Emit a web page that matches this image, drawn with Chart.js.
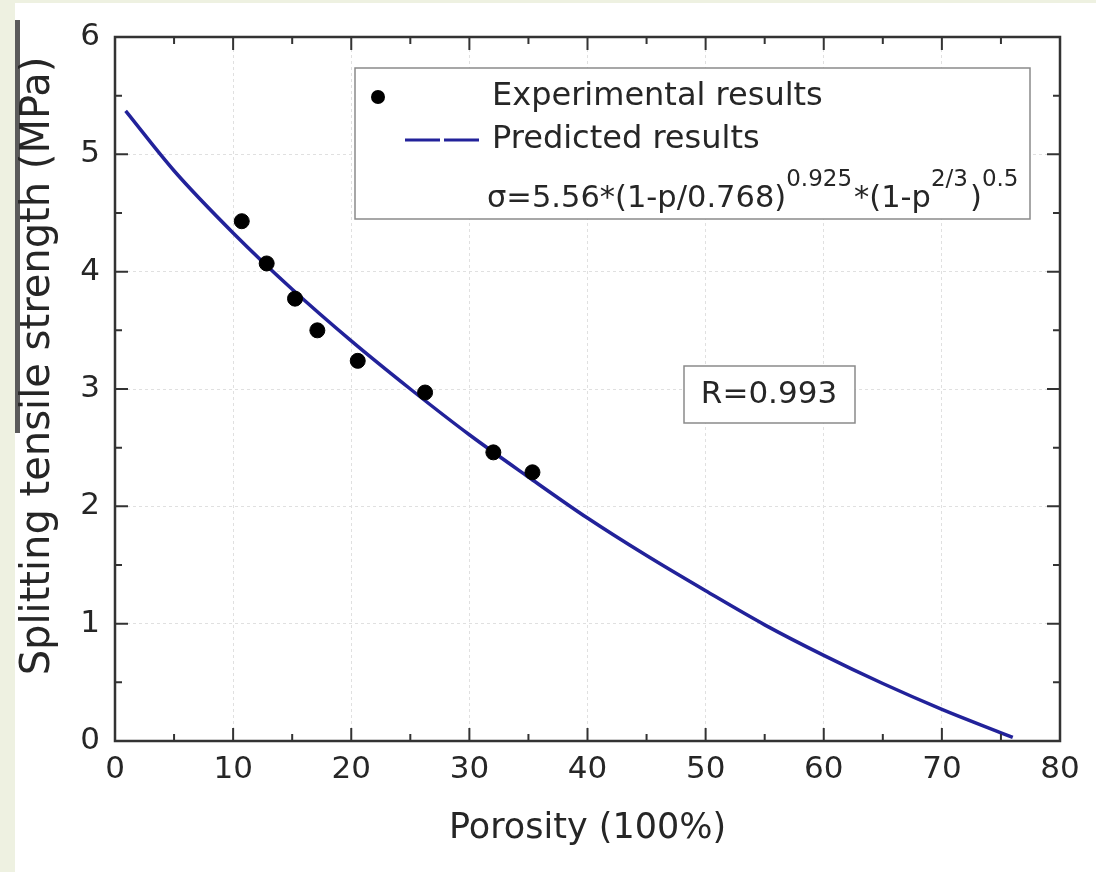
<!DOCTYPE html>
<html>
<head>
<meta charset="utf-8">
<script src="https://cdn.jsdelivr.net/npm/chart.js@4.4.0/dist/chart.umd.min.js"></script>
<style>
  body { margin: 0; background: #fff; }
  .c-page { position: relative; width: 1096px; height: 872px; overflow: hidden; }
  .c-page__strip-left { position: absolute; left: 0; top: 0; width: 15px; height: 872px; background: #eef1e1; }
  .c-page__strip-top { position: absolute; left: 0; top: 0; width: 1096px; height: 3px; background: #eef1e1; }
  .c-page__bar { position: absolute; left: 15px; top: 20px; width: 5px; height: 413px; background: #5a5a5a; }
  #js-porosityChart { position: absolute; left: 0; top: 0; }
</style>
</head>
<body>
<div class="c-page">
  <div class="c-page__strip-left"></div>
  <div class="c-page__strip-top"></div>
  <div class="c-page__bar"></div>
  <canvas id="js-porosityChart" width="1096" height="872"></canvas>
</div>
<script>
// experimental points
const expPorosity = [10.73, 12.84, 15.24, 17.13, 20.55, 26.25, 32.03, 35.34];
const expStrength = [4.43, 4.07, 3.77, 3.50, 3.24, 2.97, 2.46, 2.29];

// predicted curve
const predPorosity = [0.9, 5, 10, 15, 20, 25, 30, 35, 40, 45, 50, 55, 60, 65, 70, 75, 76];
const predStrength = [5.37, 4.86, 4.33, 3.85, 3.41, 3.00, 2.61, 2.25, 1.90, 1.58, 1.28, 0.99, 0.73, 0.49, 0.27, 0.07, 0.03];

const xTicks = [0, 10, 20, 30, 40, 50, 60, 70, 80];
const yTicks = [0, 1, 2, 3, 4, 5, 6];

const legendLabels = ["Experimental results", "Predicted results"];
const fitText = "R=0.993";

const FONT = "'DejaVu Sans', 'Liberation Sans', Arial, sans-serif";
const TEXT_COLOR = "#262626";
const CURVE_COLOR = "#22229a";

function toPoints(xs, ys) {
    var pts = [];
    for (var i = 0; i < xs.length; i++) {
        pts.push({x: xs[i], y: ys[i]});
    }
    return pts;
}

// frame, inward ticks, legend box and texts
const decorPlugin = {
    id: "decor",
    afterDatasetsDraw(chart) {
        const ctx = chart.ctx;
        const a = chart.chartArea;
        const xs = chart.scales.x;
        const ys = chart.scales.y;

        ctx.save();
        ctx.strokeStyle = "#333";
        ctx.lineWidth = 2;

        // minor/major ticks
        for (var v = 0; v <= 80; v += 5) {
            var px = xs.getPixelForValue(v);
            var len = (v % 10 === 0) ? 13 : 7;
            ctx.beginPath();
            ctx.moveTo(px, a.bottom); ctx.lineTo(px, a.bottom - len);
            ctx.moveTo(px, a.top); ctx.lineTo(px, a.top + len);
            ctx.stroke();
        }
        for (var w = 0; w <= 6; w += 0.5) {
            var py = ys.getPixelForValue(w);
            var l = (w % 1 === 0) ? 13 : 7;
            ctx.beginPath();
            ctx.moveTo(a.left, py); ctx.lineTo(a.left + l, py);
            ctx.moveTo(a.right, py); ctx.lineTo(a.right - l, py);
            ctx.stroke();
        }

        ctx.lineWidth = 2.5;
        ctx.strokeRect(a.left, a.top, a.right - a.left, a.bottom - a.top);

        // legend box
        ctx.fillStyle = "#fff";
        ctx.fillRect(355, 68, 675, 151);
        ctx.strokeStyle = "#8a8a8a";
        ctx.lineWidth = 1.5;
        ctx.strokeRect(355, 68, 675, 151);

        ctx.fillStyle = "#000";
        ctx.beginPath();
        ctx.arc(378, 97, 7, 0, Math.PI * 2);
        ctx.fill();

        ctx.strokeStyle = CURVE_COLOR;
        ctx.lineWidth = 3;
        ctx.setLineDash([35, 4]);
        ctx.beginPath();
        ctx.moveTo(405, 140); ctx.lineTo(483, 140);
        ctx.stroke();
        ctx.setLineDash([]);

        ctx.fillStyle = TEXT_COLOR;
        ctx.font = "32px " + FONT;
        ctx.textBaseline = "middle";
        ctx.textAlign = "left";
        ctx.fillText(legendLabels[0], 492, 97);
        ctx.fillText(legendLabels[1], 492, 140);

        // formula with superscripts
        var parts = [
            ["\u03c3=5.56*(1-p/0.768)", false],
            ["0.925", true],
            ["*(1-p", false],
            ["2/3", true],
            [")", false],
            ["0.5", true]
        ];
        var fx = 487;
        ctx.textBaseline = "alphabetic";
        parts.forEach((p) => {
            ctx.font = (p[1] ? "23px " : "30.5px ") + FONT;
            ctx.fillText(p[0], fx, p[1] ? 186 : 207);
            fx += ctx.measureText(p[0]).width + (p[1] ? 2 : 0);
        });

        // R box
        ctx.fillStyle = "#fff";
        ctx.fillRect(684, 366, 171, 57);
        ctx.strokeStyle = "#8a8a8a";
        ctx.lineWidth = 1.5;
        ctx.strokeRect(684, 366, 171, 57);
        ctx.fillStyle = TEXT_COLOR;
        ctx.font = "31px " + FONT;
        ctx.textAlign = "center";
        ctx.textBaseline = "middle";
        ctx.fillText(fitText, 769, 395);

        // axis titles
        ctx.font = "35px " + FONT;
        ctx.fillText("Porosity (100%)", (a.left + a.right) / 2, 829);

        ctx.translate(39, 366);
        ctx.rotate(-Math.PI / 2);
        ctx.font = "40px " + FONT;
        ctx.fillText("Splitting tensile strength (MPa)", 0, 0);

        ctx.restore();
    }
};

const ctx = document.getElementById("js-porosityChart");
const porosityChart = new Chart(ctx, {
    type: "scatter",
    data: {
        datasets: [{
            label: legendLabels[0],
            data: toPoints(expPorosity, expStrength),
            backgroundColor: "#000",
            borderColor: "#000",
            pointRadius: 7.5,
            pointHoverRadius: 7.5
        }, {
            label: legendLabels[1],
            data: toPoints(predPorosity, predStrength),
            showLine: true,
            borderColor: CURVE_COLOR,
            borderWidth: 3.5,
            pointRadius: 0,
            cubicInterpolationMode: "monotone"
        }]
    },
    options: {
        responsive: false,
        animation: false,
        layout: {
            padding: {top: 37, right: 36, left: 0, bottom: 0}
        },
        plugins: {
            legend: {display: false},
            tooltip: {enabled: false}
        },
        scales: {
            x: {
                type: "linear",
                min: 0,
                max: 80,
                afterBuildTicks: (scale) => {
                    scale.ticks = xTicks.map((v) => ({value: v}));
                },
                afterFit: (scale) => { scale.height = 131; },
                grid: {
                    color: "#e0e0e0",
                    lineWidth: 1,
                    drawTicks: false
                },
                border: {display: false, dash: [3, 3]},
                ticks: {
                    color: TEXT_COLOR,
                    padding: 10,
                    maxRotation: 0,
                    font: {family: FONT, size: 31}
                }
            },
            y: {
                min: 0,
                max: 6,
                afterBuildTicks: (scale) => {
                    scale.ticks = yTicks.map((v) => ({value: v}));
                },
                afterFit: (scale) => { scale.width = 115; },
                grid: {
                    color: "#e0e0e0",
                    lineWidth: 1,
                    drawTicks: false
                },
                border: {display: false, dash: [3, 3]},
                ticks: {
                    color: TEXT_COLOR,
                    padding: 15,
                    font: {family: FONT, size: 31}
                }
            }
        }
    },
    plugins: [decorPlugin]
});
</script>
</body>
</html>
